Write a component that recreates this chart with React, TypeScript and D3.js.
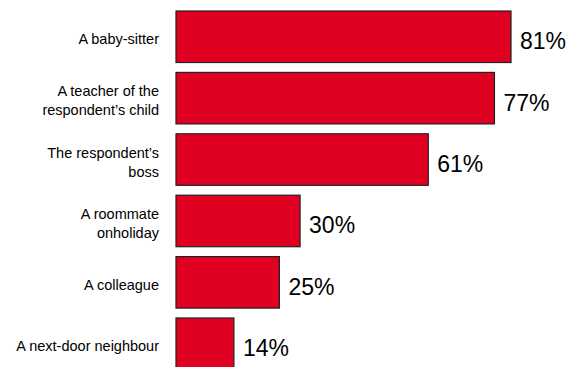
import React from "react";
import * as d3 from "d3";

const categories: string[][] = [
  ["A baby-sitter"],
  ["A teacher of the", "respondent\u2019s child"],
  ["The respondent\u2019s", "boss"],
  ["A roommate", "onholiday"],
  ["A colleague"],
  ["A next-door neighbour"],
];
const values: number[] = [81, 77, 61, 30, 25, 14];
const valueLabels: string[] = ["81%", "77%", "61%", "30%", "25%", "14%"];

const W = 580;
const H = 367;

export default function App() {
  const keys = categories.map((c) => c.join(" "));
  const x = d3.scaleLinear().domain([0, 81]).range([176, 511]);
  const y = d3
    .scaleBand<string>()
    .domain(keys)
    .range([11, 369.5])
    .paddingInner(0.161)
    .paddingOuter(0);
  const bw = y.bandwidth();
  const font = "Liberation Sans, Arial, Helvetica, sans-serif";
  return (
    <svg
      width={W}
      height={H}
      style={{ position: "absolute", left: 0, top: 0, background: "#fff" }}
    >
      {keys.map((k, i) => {
        const y0 = y(k)!;
        const cy = y0 + bw / 2;
        const lines = categories[i];
        return (
          <g key={k}>
            <rect
              x={x(0)}
              y={y0}
              width={x(values[i]) - x(0)}
              height={bw}
              fill="#e00022"
              stroke="#222"
              strokeWidth={1.2}
            />
            <text
              x={x(values[i]) + 9}
              y={cy + 12.5}
              fontFamily={font}
              fontSize={23}
              fill="#000"
            >
              {valueLabels[i]}
            </text>
            {lines.map((ln, j) => {
              const base =
                lines.length === 1 ? cy + 7.5 : cy - 2 + j * 19;
              return (
                <text
                  key={j}
                  x={159}
                  y={base}
                  textAnchor="end"
                  fontFamily={font}
                  fontSize={14.5}
                  fill="#000"
                >
                  {ln}
                </text>
              );
            })}
          </g>
        );
      })}
    </svg>
  );
}
